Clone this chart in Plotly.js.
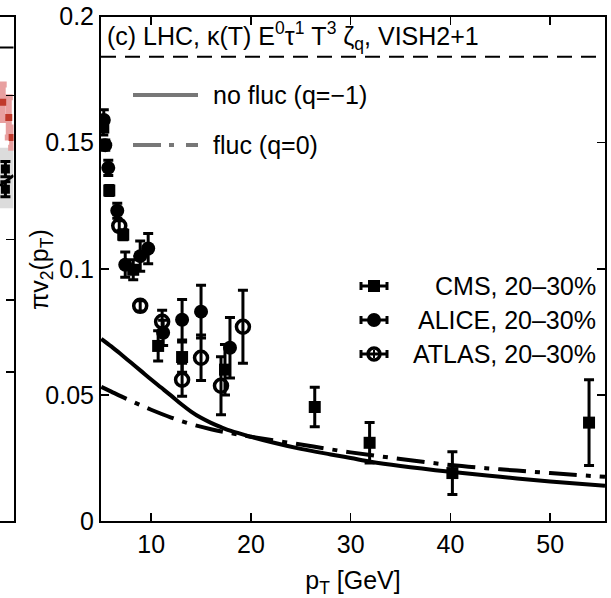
<!DOCTYPE html>
<html>
<head>
<meta charset="utf-8">
<script src="https://cdn.plot.ly/plotly-3.0.1.min.js"></script>
<style>html,body{margin:0;padding:0;background:#fff;}#chart{width:611px;height:598px;}</style>
</head>
<body>
<div id="chart"></div>
<script>
// ---------------- data ----------------
// CMS, 20-30% (filled squares)
var cmsX   = [5.2, 5.8, 7.2, 8.2, 10.7, 13.1, 17.4, 26.4, 31.9, 40.2, 53.9];
var cmsY   = [0.156, 0.131, 0.1135, 0.0996, 0.0694, 0.065, 0.060, 0.0452, 0.031, 0.019, 0.039];
var cmsErr = [0.003, 0.002, 0.002, 0.004, 0.006, 0.006, 0.010, 0.0078, 0.008, 0.0085, 0.017];
// ALICE, 20-30% (filled circles)
var aliceX   = [5.25, 5.4, 5.7, 6.6, 7.4, 8.9, 9.7, 11.2, 13.1, 15.0, 17.9];
var aliceY   = [0.159, 0.149, 0.140, 0.123, 0.1016, 0.105, 0.108, 0.0746, 0.0798, 0.083, 0.0687];
var aliceErr = [0.004, 0.002, 0.003, 0.003, 0.005, 0.006, 0.006, 0.005, 0.008, 0.0105, 0.012];
// ATLAS, 20-30% (open circles)
var atlasX   = [6.8, 8.9, 11.1, 13.1, 15.0, 17.0, 19.2];
var atlasY   = [0.117, 0.0853, 0.079, 0.056, 0.0647, 0.0536, 0.077];
var atlasErr = [0.002, 0.002, 0.0045, 0.0065, 0.009, 0.0115, 0.0145];
// theory: no fluc (q=-1), solid
var nofX = [5, 6, 7, 8, 9, 10, 11, 12, 13, 14, 15, 16, 17, 18, 20, 22, 25, 28, 30, 32, 35, 40, 45, 50, 55.5];
var nofY = [0.0722, 0.0692, 0.066, 0.0627, 0.0594, 0.0561, 0.0529, 0.0497, 0.0464, 0.0434, 0.0409, 0.0389, 0.0372, 0.0357, 0.0334, 0.0313, 0.0286, 0.0264, 0.0250, 0.0235, 0.0218, 0.0195, 0.0175, 0.0157, 0.014];
// theory: fluc (q=0), dash-dot
var flucX = [5, 6, 7, 8, 9, 10, 12, 14, 16, 18, 20, 25, 30, 35, 40, 45, 50, 55.5];
var flucY = [0.0532, 0.0513, 0.0494, 0.0476, 0.0458, 0.0441, 0.041, 0.0384, 0.0364, 0.0348, 0.0334, 0.0303, 0.0272, 0.0246, 0.0222, 0.0205, 0.019, 0.0175];
// axis ticks
var xTicks = [10, 20, 30, 40, 50];
var yTicks = [0, 0.05, 0.1, 0.15, 0.2];
var yTickText = ['0', '0.05', '0.1', '0.15', '0.2'];
var headerY = 0.184;
// neighbouring panel (only its right edge is visible)
var nbBandX = [0, 1];
var nbBandLo = [0.124, 0.124];
var nbBandHi = [0.148, 0.148];
var nbCurveX = [0, 0.5, 1];
var nbCurveY = [0.133, 0.135, 0.137];
var nbBlackX = [0.4, 0.4];
var nbBlackY = [0.1395, 0.1315];
var nbBlackErr = [0.003, 0.003];
var nbRedX = [0.2, 0.65, 0.9];
var nbRedY = [0.166, 0.160, 0.152];
var nbRedErr = [0.007, 0.008, 0.004];
var nbTicks = [0.0591, 0.0877, 0.1115, 0.1687];
var nbHeaderY = 0.1877;

var FONT = 'Liberation Sans, Arial, Helvetica, sans-serif';
var fs = 25;

function errObj(arr) {
  return {type: 'data', array: arr, visible: true, color: '#000', thickness: 3, width: 5};
}

var traces = [
  // neighbour panel
  {x: nbBandX, y: nbBandLo, xaxis: 'x2', yaxis: 'y2', mode: 'lines', line: {width: 0}, hoverinfo: 'skip', showlegend: false},
  {x: nbBandX, y: nbBandHi, xaxis: 'x2', yaxis: 'y2', mode: 'lines', line: {width: 0}, fill: 'tonexty', fillcolor: '#dcdcdc', hoverinfo: 'skip', showlegend: false},
  {x: nbCurveX, y: nbCurveY, xaxis: 'x2', yaxis: 'y2', mode: 'lines', line: {color: '#000', width: 3}, showlegend: false},
  {x: nbRedX, y: nbRedY, xaxis: 'x2', yaxis: 'y2', mode: 'markers', marker: {color: '#c0392b', size: 7, symbol: 'square'},
   error_y: {type: 'data', array: nbRedErr, color: '#e8a0a0', thickness: 6, width: 4}, showlegend: false},
  {x: nbBlackX, y: nbBlackY, xaxis: 'x2', yaxis: 'y2', mode: 'markers', marker: {color: '#000', size: 9, symbol: 'square'},
   error_y: errObj(nbBlackErr), showlegend: false},
  // theory curves
  {x: nofX, y: nofY, mode: 'lines', line: {color: '#000', width: 4, shape: 'spline'}, name: 'no fluc (q=-1)', showlegend: false},
  {x: flucX, y: flucY, mode: 'lines', line: {color: '#000', width: 4, dash: '28px,9px,5px,9px', shape: 'spline'}, name: 'fluc (q=0)', showlegend: false},
  // data
  {x: cmsX, y: cmsY, mode: 'markers', name: 'CMS, 20\u201330%', marker: {symbol: 'square', size: 12, color: '#000'}, error_y: errObj(cmsErr), showlegend: false},
  {x: aliceX, y: aliceY, mode: 'markers', name: 'ALICE, 20\u201330%', marker: {symbol: 'circle', size: 14, color: '#000'}, error_y: errObj(aliceErr), showlegend: false},
  {x: atlasX, y: atlasY, mode: 'markers', name: 'ATLAS, 20\u201330%', marker: {symbol: 'circle-open', size: 13, color: '#000', line: {width: 3.5, color: '#000'}}, error_y: errObj(atlasErr), showlegend: false}
];

// pixel helpers for legend decorations (paper coordinates)
var W = 611, H = 598;
function px(x) { return x / W; }
function py(y) { return 1 - y / H; }

var shapes = [
  // header separator (dashed)
  {type: 'line', xref: 'x domain', yref: 'y', x0: 0, x1: 1, y0: headerY, y1: headerY, line: {color: '#000', width: 2, dash: '15px,9px'}},
  // neighbour panel header line
  {type: 'line', xref: 'x2 domain', yref: 'y2', x0: 0, x1: 1, y0: nbHeaderY, y1: nbHeaderY, line: {color: '#000', width: 2}},
  // theory key
  {type: 'line', xref: 'paper', yref: 'paper', x0: px(133), x1: px(198), y0: py(95), y1: py(95), line: {color: '#777', width: 4}},
  {type: 'line', xref: 'paper', yref: 'paper', x0: px(133), x1: px(198), y0: py(145), y1: py(145), line: {color: '#777', width: 4, dash: '28px,8px,5px,12px'}}
];
// data key: errorbar-like sample
var keyY = [286, 320, 354];
keyY.forEach(function (yy, i) {
  shapes.push({type: 'line', xref: 'paper', yref: 'paper', x0: px(361), x1: px(387), y0: py(yy), y1: py(yy), line: {color: '#000', width: 3}});
  shapes.push({type: 'line', xref: 'paper', yref: 'paper', x0: px(361), x1: px(361), y0: py(yy - 4), y1: py(yy + 4), line: {color: '#000', width: 3}});
  shapes.push({type: 'line', xref: 'paper', yref: 'paper', x0: px(387), x1: px(387), y0: py(yy - 4), y1: py(yy + 4), line: {color: '#000', width: 3}});
  if (i === 0) {
    shapes.push({type: 'rect', xref: 'paper', yref: 'paper', x0: px(368), x1: px(380), y0: py(yy - 6), y1: py(yy + 6), fillcolor: '#000', line: {width: 0}});
  } else if (i === 1) {
    shapes.push({type: 'circle', xref: 'paper', yref: 'paper', x0: px(367), x1: px(381), y0: py(yy - 7), y1: py(yy + 7), fillcolor: '#000', line: {width: 0}});
  } else {
    shapes.push({type: 'circle', xref: 'paper', yref: 'paper', x0: px(368), x1: px(380), y0: py(yy - 6), y1: py(yy + 6), fillcolor: 'rgba(0,0,0,0)', line: {color: '#000', width: 3.5}});
    shapes.push({type: 'line', xref: 'paper', yref: 'paper', x0: px(374), x1: px(374), y0: py(yy - 4), y1: py(yy + 4), line: {color: '#000', width: 2}});
  }
});

var annotations = [
  {xref: 'paper', yref: 'paper', x: px(105), y: py(36), xanchor: 'left', yanchor: 'middle', showarrow: false,
   text: '(c) LHC, \u03ba(T) E<sup>0</sup>\u03c4<sup>1</sup> T<sup>3</sup> \u03b6<sub>q</sub>, VISH2+1', font: {family: FONT, size: fs, color: '#000'}},
  {xref: 'paper', yref: 'paper', x: px(211), y: py(95), xanchor: 'left', yanchor: 'middle', showarrow: false,
   text: 'no fluc (q=\u22121)', font: {family: FONT, size: fs, color: '#000'}},
  {xref: 'paper', yref: 'paper', x: px(211), y: py(145), xanchor: 'left', yanchor: 'middle', showarrow: false,
   text: 'fluc (q=0)', font: {family: FONT, size: fs, color: '#000'}},
  {xref: 'paper', yref: 'paper', x: px(598), y: py(286), xanchor: 'right', yanchor: 'middle', showarrow: false,
   text: 'CMS, 20\u201330%', font: {family: FONT, size: fs, color: '#000'}},
  {xref: 'paper', yref: 'paper', x: px(598), y: py(320), xanchor: 'right', yanchor: 'middle', showarrow: false,
   text: 'ALICE, 20\u201330%', font: {family: FONT, size: fs, color: '#000'}},
  {xref: 'paper', yref: 'paper', x: px(598), y: py(354), xanchor: 'right', yanchor: 'middle', showarrow: false,
   text: 'ATLAS, 20\u201330%', font: {family: FONT, size: fs, color: '#000'}},
  // y-axis title (placed close to tick labels as in the reference)
  {xref: 'paper', yref: 'paper', x: px(41), y: py(270), xanchor: 'center', yanchor: 'middle', showarrow: false, textangle: -90,
   text: '\u03c0v<sub>2</sub>(p<sub>T</sub>)', font: {family: FONT, size: fs, color: '#000'}}
];

var layout = {
  width: W, height: H,
  margin: {l: 0, r: 0, t: 0, b: 0, pad: 0},
  paper_bgcolor: '#fff', plot_bgcolor: '#fff',
  showlegend: false,
  font: {family: FONT, size: fs, color: '#000'},
  xaxis: {
    domain: [px(101), px(605)], range: [4.97, 55.5], anchor: 'y',
    tickvals: xTicks, ticks: 'inside', ticklen: 8, tickwidth: 1.5, tickcolor: '#000',
    showline: true, linewidth: 2, linecolor: '#000', mirror: 'ticks',
    showgrid: false, zeroline: false, automargin: false,
    tickfont: {family: FONT, size: fs, color: '#000'},
    title: {text: 'p<sub>T</sub> [GeV]', font: {family: FONT, size: fs, color: '#000'}}
  },
  yaxis: {
    domain: [py(521), py(16.5)], range: [0, 0.2], anchor: 'x',
    tickvals: yTicks, ticktext: yTickText, ticks: 'inside', ticklen: 8, tickwidth: 1.5, tickcolor: '#000',
    showline: true, linewidth: 2, linecolor: '#000', mirror: 'ticks',
    showgrid: false, zeroline: false, automargin: false,
    tickfont: {family: FONT, size: fs, color: '#000'},
    title: {text: ''}
  },
  xaxis2: {
    domain: [0, px(13.5)], range: [0, 1], anchor: 'y2',
    showticklabels: false, ticks: '', showline: true, linewidth: 2, linecolor: '#000', mirror: true,
    showgrid: false, zeroline: false, automargin: false
  },
  yaxis2: {
    domain: [py(521), py(16.5)], range: [0, 0.2], anchor: 'x2', side: 'right',
    tickvals: nbTicks, ticks: 'inside', ticklen: 8, tickwidth: 1.5, tickcolor: '#000', showticklabels: false,
    showline: true, linewidth: 2, linecolor: '#000', mirror: false,
    showgrid: false, zeroline: false, automargin: false
  },
  shapes: shapes,
  annotations: annotations
};

Plotly.newPlot('chart', traces, layout, {staticPlot: true, displayModeBar: false});
</script>
</body>
</html>
